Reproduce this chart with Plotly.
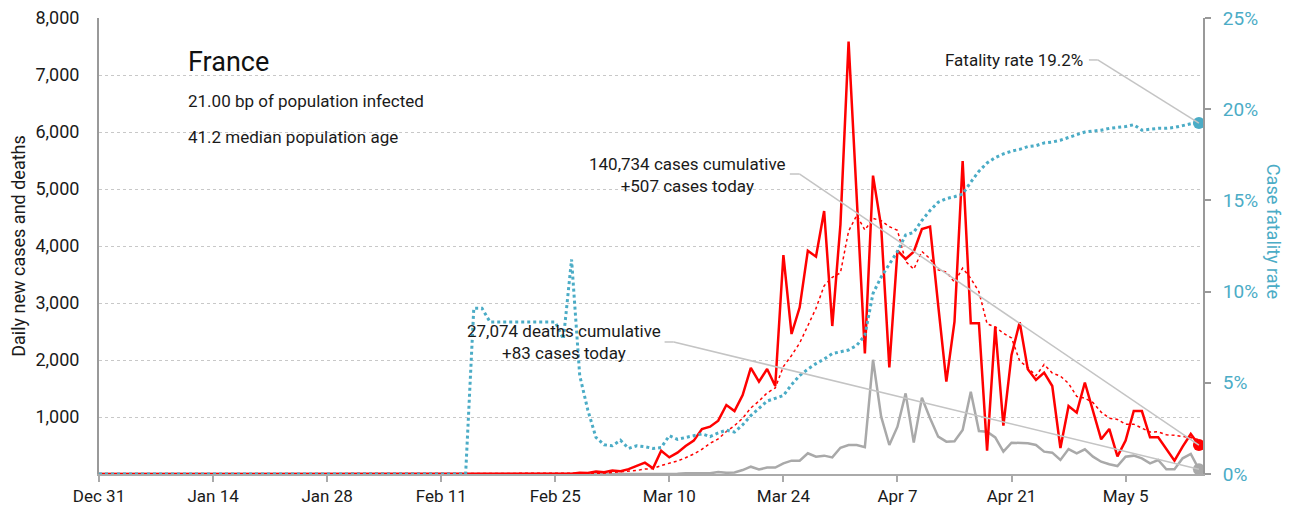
import plotly.graph_objects as go
import pandas as pd

# France, daily series from Dec 31 2019 to May 14 2020
dates = pd.date_range("2019-12-31", periods=136, freq="D")

daily_cases = [
    0, 0, 0, 0, 0, 0, 0, 0, 0, 0, 0, 0, 0, 0,
    0, 0, 0, 0, 0, 0, 0, 0, 0, 0, 0, 3, 0, 0,
    0, 1, 0, 1, 0, 0, 0, 0, 0, 0, 0, 5, 0, 0,
    0, 1, 0, 0, 0, 0, 1, 0, 0, 0, 0, 0, 0, 0,
    0, 2, 3, 21, 19, 45, 30, 61, 50, 85, 140, 198, 99, 409,
    292, 374, 491, 585, 789, 830, 936, 1210, 1105, 1386, 1860, 1620, 1842, 1544,
    3842, 2456, 2924, 3918, 3813, 4614, 2596, 4376, 7585, 4861, 2117, 5234, 4340, 1871,
    3918, 3772, 3900, 4298, 4340, 2960, 1620, 2672, 5491, 2643, 2643, 409, 2585, 850,
    2088, 2661, 1836, 1649, 1778, 1544, 455, 1193, 1076, 1605, 1123, 609, 790, 310,
    585, 1105, 1105, 643, 643, 433, 234, 480, 702, 507,
]

cases_7day_avg = [
    0, 0, 0, 0, 0, 0, 0, 0, 0, 0, 0, 0, 0, 0,
    0, 0, 0, 0, 0, 0, 0, 0, 0, 0, 0, 0.4, 0.4, 0.4,
    0.4, 0.6, 0.6, 0.7, 0.3, 0.3, 0.1, 0.1, 0, 0, 0, 0.7, 0.7, 0.7,
    0.7, 0.9, 0.9, 0.9, 0.1, 0.1, 0.1, 0.1, 0.1, 0.1, 0.1, 0, 0, 0,
    0, 0.3, 0.7, 3.7, 6.4, 13, 17, 26, 33, 44, 61, 87, 95, 149,
    182, 228, 286, 350, 434, 539, 614, 745, 849, 977, 1159, 1278, 1423, 1510,
    1886, 2079, 2298, 2592, 2906, 3302, 3452, 3528, 4261, 4538, 4280, 4483, 4444, 4341,
    4275, 3730, 3593, 3905, 3777, 3580, 3544, 3366, 3612, 3432, 3196, 2634, 2580, 2470,
    2387, 1983, 1867, 1725, 1921, 1772, 1716, 1588, 1362, 1329, 1253, 1086, 979, 958,
    871, 875, 804, 735, 740, 689, 678, 663, 640, 600,
]

daily_deaths = [
    0, 0, 0, 0, 0, 0, 0, 0, 0, 0, 0, 0, 0, 0,
    0, 0, 0, 0, 0, 0, 0, 0, 0, 0, 0, 0, 0, 0,
    0, 0, 0, 0, 0, 0, 0, 0, 0, 0, 0, 0, 0, 0,
    0, 0, 0, 0, 1, 0, 0, 0, 0, 0, 0, 0, 0, 0,
    0, 0, 1, 0, 0, 0, 0, 1, 1, 2, 1, 2, 0, 9,
    11, 3, 15, 13, 18, 12, 36, 21, 27, 69, 128, 78, 112, 112,
    187, 234, 234, 363, 304, 322, 292, 460, 509, 509, 470, 2004, 1006, 509,
    830, 1415, 550, 1339, 977, 655, 567, 575, 772, 1444, 754, 742, 643, 392,
    550, 538, 538, 509, 392, 374, 246, 438, 363, 433, 304, 216, 170, 140,
    304, 322, 275, 187, 245, 82, 82, 275, 351, 83,
]

# case fatality rate, percent
fatality_rate = [
    0, 0, 0, 0, 0, 0, 0, 0, 0, 0, 0, 0, 0, 0,
    0, 0, 0, 0, 0, 0, 0, 0, 0, 0, 0, 0, 0, 0,
    0, 0, 0, 0, 0, 0, 0, 0, 0, 0, 0, 0, 0, 0,
    0, 0, 0, 0, 9.09, 9.09, 8.33, 8.33, 8.33, 8.33, 8.33, 8.33, 8.33, 8.33,
    8.33, 7.4, 11.76, 5.4, 3.5, 2.0, 1.6, 1.55, 1.85, 1.4, 1.55, 1.5, 1.4, 1.45,
    2.1, 1.9, 2.0, 2.1, 2.2, 2.05, 2.25, 2.4, 2.3, 2.7, 3.2, 3.6, 4.0, 4.15,
    4.3, 4.9, 5.4, 5.75, 6.05, 6.3, 6.6, 6.7, 6.8, 7.05, 7.6, 9.9, 10.8, 11.5,
    12.2, 13.1, 13.25, 13.9, 14.45, 14.9, 15.1, 15.2, 15.35, 16.0, 16.6, 17.05, 17.35, 17.55,
    17.7, 17.8, 17.95, 18.0, 18.15, 18.2, 18.3, 18.45, 18.6, 18.75, 18.8, 18.85, 18.95, 19.0,
    19.05, 19.15, 18.85, 18.9, 18.95, 18.95, 19.0, 19.1, 19.2, 19.24,
]

left_ticks = [1000, 2000, 3000, 4000, 5000, 6000, 7000, 8000]
right_ticks = [0, 5, 10, 15, 20, 25]

total_cases = 140734
total_deaths = 27074
infected_bp = 21.00
median_age = 41.2

RED = "#ff0000"
GREY = "#a9a9a9"
TEAL = "#4bacc6"
LEADER = "#c4c4c4"
FONT = "Roboto"
INK = "#1a1a1a"

fig = go.Figure()

fig.add_trace(go.Scatter(x=dates, y=daily_deaths, mode="lines",
                         line=dict(color=GREY, width=2.5), name="Deaths"))
fig.add_trace(go.Scatter(x=dates, y=cases_7day_avg, mode="lines",
                         line=dict(color=RED, width=1.5, dash="dot"), name="7-day avg"))
fig.add_trace(go.Scatter(x=dates, y=daily_cases, mode="lines",
                         line=dict(color=RED, width=2.5), name="Cases"))
fig.add_trace(go.Scatter(x=dates, y=fatality_rate, mode="lines", yaxis="y2",
                         line=dict(color=TEAL, width=3, dash="dot"), name="Fatality rate"))

# end points
fig.add_trace(go.Scatter(x=[dates[-1]], y=[daily_deaths[-1]], mode="markers", cliponaxis=False,
                         marker=dict(color=GREY, size=12)))
fig.add_trace(go.Scatter(x=[dates[-1]], y=[daily_cases[-1]], mode="markers", cliponaxis=False,
                         marker=dict(color=RED, size=12)))
fig.add_trace(go.Scatter(x=[dates[-1]], y=[fatality_rate[-1]], mode="markers", yaxis="y2",
                         cliponaxis=False, marker=dict(color=TEAL, size=12)))

# leader lines: short horizontal bit next to the text, then a diagonal to the last point
leaders = [
    ("2020-04-30 12:00", "2020-05-01 14:00", 22.7, fatality_rate[-1], "y2"),
    ("2020-03-24 19:00", "2020-03-26 00:00", 5263, daily_cases[-1], "y"),
    ("2020-03-09 10:00", "2020-03-10 13:00", 2316, daily_deaths[-1], "y"),
]
shapes = []
for xa, xb, yk, yend, yref in leaders:
    shapes.append(dict(type="line", xref="x", yref=yref, x0=xa, x1=xb, y0=yk, y1=yk,
                       line=dict(color=LEADER, width=1.5)))
    shapes.append(dict(type="line", xref="x", yref=yref, x0=xb, x1=dates[-1], y0=yk, y1=yend,
                       line=dict(color=LEADER, width=1.5)))

txt = dict(family=FONT, size=17, color=INK)
note = dict(xref="paper", yref="paper", yanchor="middle", showarrow=False)
annotations = [
    dict(text="France", x=0.0788, y=0.9035, xanchor="left",
         font=dict(family=FONT, size=27, color="#111"), **note),
    dict(text=f"{infected_bp:.2f} bp of population infected", x=0.0788, y=0.818,
         xanchor="left", font=txt, **note),
    dict(text=f"{median_age} median population age", x=0.0788, y=0.739,
         xanchor="left", font=txt, **note),
    dict(text=f"Fatality rate {total_deaths / total_cases * 100:.1f}%", x=0.893, y=0.908,
         xanchor="right", font=txt, **note),
    dict(text=f"{total_cases:,} cases cumulative<br>+{daily_cases[-1]} cases today",
         x=0.624, y=0.656, xanchor="right", align="center", font=txt, **note),
    dict(text=f"{total_deaths:,} deaths cumulative<br>+{daily_deaths[-1]} cases today",
         x=0.511, y=0.289, xanchor="right", align="center", font=txt, **note),
    dict(text="Case fatality rate", x=1.0634, y=0.531, xanchor="center", textangle=90,
         font=dict(family=FONT, size=18, color=TEAL), **note),
]

# the page has an 8px body margin, so the figure is drawn 8px in from the top-left corner
fig.update_layout(
    width=1283, height=505,
    margin=dict(l=91, r=88, t=10, b=39),
    paper_bgcolor="white", plot_bgcolor="white",
    showlegend=False,
    font=dict(family=FONT, size=17, color=INK),
    xaxis=dict(
        type="date", automargin=False,
        range=["2019-12-31", "2020-05-14 12:00"],
        tick0="2019-12-31", dtick=14 * 86400000, tickformat="%b %-d",
        showgrid=False, zeroline=False,
        showline=True, linecolor="#aaaaaa", linewidth=2,
        ticks="outside", ticklen=6, tickwidth=1.5, tickcolor="#aaaaaa",
        ticklabeloverflow="allow",
        tickfont=dict(family=FONT, size=17, color=INK),
    ),
    yaxis=dict(
        automargin=False,
        range=[0, 8000],
        tickvals=left_ticks,
        ticktext=[f"{v:,}" for v in left_ticks],
        showgrid=True, gridcolor="#c8c8c8", gridwidth=1, griddash="dot",
        zeroline=False, showline=True, linecolor="#999999", linewidth=2,
        ticks="outside", ticklen=14, tickcolor="rgba(0,0,0,0)",
        ticklabeloverflow="allow",
        tickfont=dict(family=FONT, size=18, color=INK),
        title=dict(text="Daily new cases and deaths", font=dict(family=FONT, size=18, color=INK),
                   standoff=6),
    ),
    yaxis2=dict(
        automargin=False,
        overlaying="y", side="right",
        range=[0, 25],
        tickvals=right_ticks,
        ticktext=[f"{v}%" for v in right_ticks],
        showgrid=False, zeroline=False,
        showline=True, linecolor="#999999", linewidth=2,
        ticks="outside", ticklen=6, tickwidth=1.5, tickcolor="#999999",
        ticklabelstandoff=8, ticklabeloverflow="allow",
        tickfont=dict(family=FONT, size=19, color=TEAL),
    ),
    shapes=shapes,
    annotations=annotations,
)

fig.write_html("out.html")
